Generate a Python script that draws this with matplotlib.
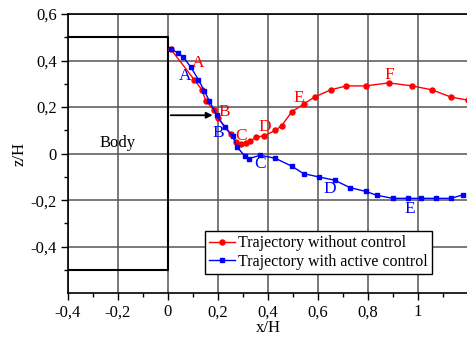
import numpy as np
import matplotlib
matplotlib.use("Agg")
import matplotlib.pyplot as plt

# trajectory without control (red)
x_red = [0.012, 0.105, 0.136, 0.152, 0.185, 0.199, 0.252, 0.273, 0.293, 0.311, 0.33,
         0.353, 0.385, 0.43, 0.455, 0.496, 0.543, 0.587, 0.651, 0.714, 0.791, 0.884,
         0.978, 1.057, 1.133, 1.2]
z_red = [0.448, 0.318, 0.274, 0.226, 0.186, 0.155, 0.085, 0.05, 0.043, 0.045, 0.054,
         0.071, 0.077, 0.10, 0.12, 0.18, 0.213, 0.243, 0.274, 0.291, 0.291, 0.304,
         0.291, 0.274, 0.243, 0.23]

# trajectory with active control (blue)
x_blue = [0.012, 0.039, 0.062, 0.092, 0.122, 0.145, 0.165, 0.196, 0.227, 0.26, 0.276,
          0.307, 0.324, 0.37, 0.43, 0.496, 0.543, 0.604, 0.667, 0.729, 0.791, 0.837,
          0.9, 0.96, 1.011, 1.071, 1.133, 1.18]
z_blue = [0.45, 0.433, 0.414, 0.371, 0.318, 0.271, 0.228, 0.164, 0.114, 0.074, 0.029,
          -0.009, -0.021, -0.007, -0.02, -0.054, -0.086, -0.1, -0.114, -0.146, -0.162,
          -0.179, -0.192, -0.192, -0.192, -0.192, -0.192, -0.177]

# point labels
red_labels = [("A", 0.12, 0.39), ("B", 0.227, 0.177), ("C", 0.293, 0.074),
              ("D", 0.387, 0.114), ("E", 0.523, 0.24), ("F", 0.887, 0.339)]
blue_labels = [("A", 0.067, 0.335), ("B", 0.203, 0.088), ("C", 0.367, -0.043),
               ("D", 0.647, -0.15), ("E", 0.967, -0.236)]

xticks = [-0.4, -0.2, 0, 0.2, 0.4, 0.6, 0.8, 1.0]
xticklabels = ["-0,4", "-0,2", "0", "0,2", "0,4", "0,6", "0,8", "1"]
yticks = [-0.4, -0.2, 0, 0.2, 0.4, 0.6]
yticklabels = ["-0,4", "-0,2", "0", "0,2", "0,4", "0,6"]

plt.rcParams['font.family'] = ['Liberation Serif', 'DejaVu Serif']

fig = plt.figure(figsize=(4.67, 3.38), dpi=100)
ax = fig.add_axes([0.1456, 0.1322, 0.856, 0.8264])

ax.set_xlim(-0.4, 1.2)
ax.set_ylim(-0.6, 0.6)
ax.set_xticks(xticks)
ax.set_xticklabels(xticklabels, fontsize=12)
ax.set_yticks(yticks)
ax.set_yticklabels(yticklabels, fontsize=12)
ax.set_xticks(np.arange(-0.3, 1.2, 0.2), minor=True)
ax.set_yticks(np.arange(-0.5, 0.6, 0.2), minor=True)
ax.tick_params(which='major', direction='out', length=5, width=1, pad=3)
ax.tick_params(which='minor', direction='out', length=3, width=1)
ax.grid(True, which='major', color='#555555', linewidth=1.1)
ax.set_axisbelow(True)
for s in ax.spines.values():
    s.set_linewidth(1.2)

# body outline
ax.plot([-0.4, 0, 0, -0.4], [0.5, 0.5, -0.5, -0.5], color='black', lw=1.5, zorder=3)
ax.text(-0.2, 0.045, "Body", fontsize=12, ha='center', va='center')
ax.annotate("", xy=(0.19, 0.165), xytext=(0, 0.165),
            arrowprops=dict(arrowstyle='-|>', color='black', lw=1.3, mutation_scale=9))

ax.plot(x_red, z_red, color='red', marker='o', markersize=3.6, lw=1,
        label='Trajectory without control', zorder=4)
ax.plot(x_blue, z_blue, color='blue', marker='s', markersize=3.2, lw=1,
        label='Trajectory with active control', zorder=5)

for t, x, y in red_labels:
    ax.text(x, y, t, color='red', fontsize=12.5, ha='center', va='center')
for t, x, y in blue_labels:
    ax.text(x, y, t, color='blue', fontsize=12.5, ha='center', va='center')

ax.set_xlabel("x/H", fontsize=12, labelpad=0)
ax.set_ylabel("z/H", fontsize=12, labelpad=2)

leg = ax.legend(loc='lower left', bbox_to_anchor=(0.343, 0.07), fontsize=11.5,
                frameon=True, fancybox=False, edgecolor='black', framealpha=1,
                handlelength=1.6, handletextpad=0.2, borderpad=0.25, labelspacing=0.15,
                borderaxespad=0)
leg.get_frame().set_linewidth(1)

fig.savefig("out.png", dpi=100)
